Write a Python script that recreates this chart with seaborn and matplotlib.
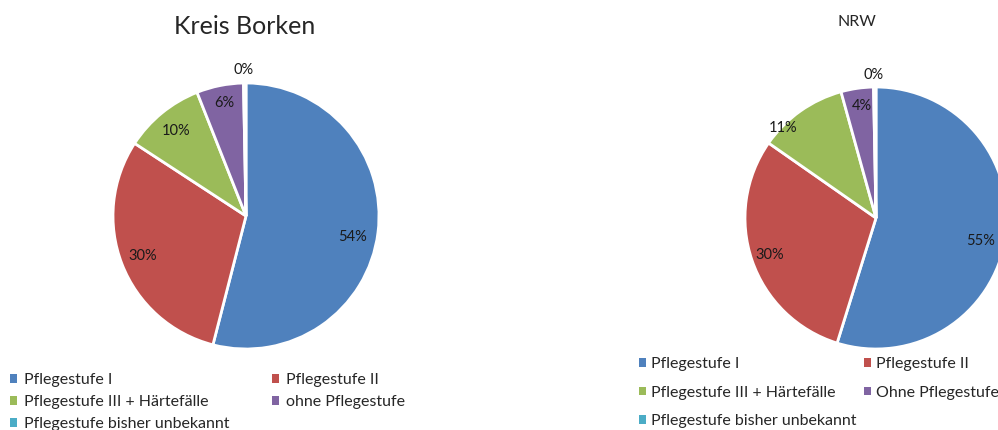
import matplotlib
matplotlib.use("Agg")
import matplotlib.pyplot as plt
from matplotlib.patches import Patch
import seaborn as sns

# Shares of care levels (percent)
categories = ["Pflegestufe I", "Pflegestufe II", "Pflegestufe III + Härtefälle",
              "ohne Pflegestufe", "Pflegestufe bisher unbekannt"]
categories_nrw = ["Pflegestufe I", "Pflegestufe II", "Pflegestufe III + Härtefälle",
                  "Ohne Pflegestufe", "Pflegestufe bisher unbekannt"]
borken_values = [54.0, 30.2, 9.8, 5.7, 0.3]
nrw_values = [54.8, 29.9, 11.0, 4.0, 0.3]

sns.set_theme(style="white")
plt.rcParams["font.family"] = ["Lato", "DejaVu Sans"]
colors = sns.color_palette(["#4F81BD", "#C0504D", "#9BBB59", "#8064A2", "#4BACC6"])

W, H = 998, 430
fig = plt.figure(figsize=(W / 100, H / 100), dpi=100)
fig.patch.set_facecolor("white")


def pie_axes(cx, cy, r):
    return fig.add_axes([(cx - r) / W, (H - cy - r) / H, 2 * r / W, 2 * r / H])


def draw_pie(ax, values, pct_dist):
    wedges, _, autotexts = ax.pie(
        values, colors=colors, startangle=90, counterclock=False,
        autopct=lambda p: f"{p:.0f}%", pctdistance=pct_dist,
        wedgeprops=dict(edgecolor="white", linewidth=2),
        textprops=dict(fontsize=10.5, color="#1a1a1a"))
    ax.set_xlim(-1, 1)
    ax.set_ylim(-1, 1)
    ax.set_aspect("equal")
    ax.axis("off")
    return wedges, autotexts


# Kreis Borken
ax1 = pie_axes(246, 216, 133)
w1, t1 = draw_pie(ax1, borken_values, 0.83)
t1[0].set_position((0.80, -0.16))
t1[3].set_position((-0.165, 0.85))
t1[4].set_position((-0.015, 1.10))
fig.text(245 / W, 1 - 26 / H, "Kreis Borken", ha="center", va="center", fontsize=18)

# NRW
ax2 = pie_axes(876, 218, 131)
w2, t2 = draw_pie(ax2, nrw_values, 0.83)
t2[0].set_position((0.80, -0.176))
t2[1].set_position((-0.81, -0.28))
t2[2].set_position((-0.71, 0.69))
t2[3].set_position((-0.107, 0.855))
t2[4].set_position((-0.015, 1.09))
fig.text(857 / W, 1 - 22 / H, "NRW", ha="center", va="center", fontsize=11.5)

# column-first legend order gives rows: I | II, III | ohne, unbekannt
order = [0, 2, 4, 1, 3]


def add_legend(labels, x, y, spacing, colspace, pad):
    handles = [Patch(facecolor=colors[i], edgecolor="none", label=labels[i]) for i in order]
    fig.legend(handles=handles, loc="upper left", bbox_to_anchor=(x / W, 1 - y / H),
               ncol=2, frameon=False, fontsize=11.5, handlelength=0.45, handleheight=0.45,
               handletextpad=pad, labelspacing=spacing, columnspacing=colspace,
               borderaxespad=0, borderpad=0)


add_legend(categories, 10, 373, 0.5, 2.7, 0.4)
add_legend(categories_nrw, 639, 357, 0.92, 0.45, 0.3)

fig.savefig("out.png", dpi=100, facecolor="white")
